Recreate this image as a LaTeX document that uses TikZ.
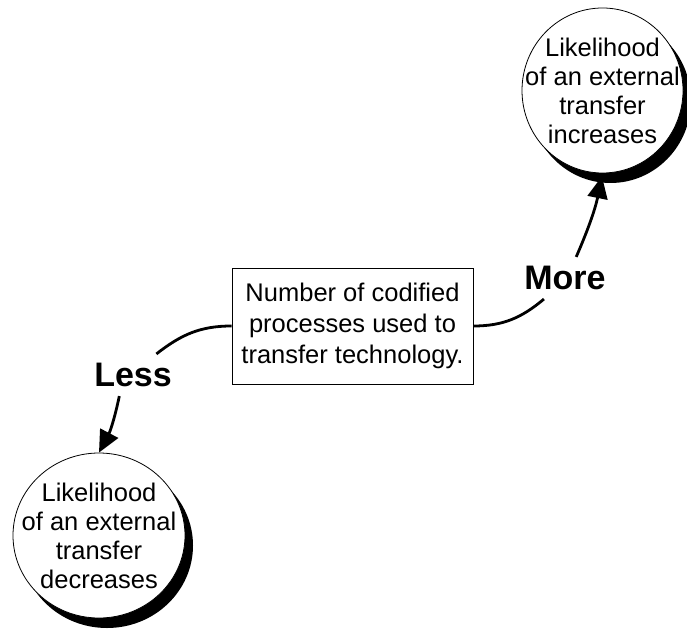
\documentclass[tikz,border=0pt]{standalone}
\usepackage{fontspec}
\setmainfont{Liberation Sans}
\usetikzlibrary{arrows.meta,shapes.geometric}
\begin{document}
\begin{tikzpicture}[x=1pt,y=1pt,
  outcome/.style={ellipse, draw=black, line width=0.8pt, fill=white,
    inner sep=0pt,
    preaction={fill=black, transform canvas={shift={(8pt,-10pt)}}}},
  outcometext/.style={align=center, inner sep=0pt,
    font=\fontsize{25.5}{29}\selectfont},
  factor/.style={rectangle, draw=black, line width=0.8pt, fill=white,
    minimum width=241pt, minimum height=116pt, align=center,
    font=\fontsize{25.5}{31}\selectfont},
  level/.style={font=\fontsize{34}{34}\selectfont\bfseries,
    inner xsep=6pt, inner ysep=9pt},
  link/.style={line width=2.8pt},
  flow/.style={line width=2.8pt, -{Triangle[length=22pt,width=20pt]}}]
  \useasboundingbox (0,0) rectangle (687,630);
  \fill[white] (0,0) rectangle (687,630);

  % central factor
  \node[factor] (box) at (352.5,304) {Number of codified\\processes used to\\transfer technology.};

  % the two outcomes: outline with drop shadow, then the text inside
  \node[outcome, minimum width=161pt, minimum height=165pt] (up) at (602.5,539.5) {};
  \node[outcometext] (uptext) at (up.center) {Likelihood\\of an external\\transfer\\increases};
  \node[outcome, minimum width=172pt, minimum height=165pt] (down) at (99,94.5) {};
  \node[outcometext] (downtext) at (down.center) {Likelihood\\of an external\\transfer\\decreases};

  % direction labels
  \node[level] (less) at (133,255) {Less};
  \node[level] (more) at (565,352) {More};

  % connectors
  \draw[link] (box.west) to[out=180,in=38] (less.42);
  \draw[flow] (less.-123) to[bend left=8] (down.north);
  \draw[link] (box.east) to[out=0,in=-140] (more.-135);
  \draw[flow, shorten >=3pt] (more.62) to[bend right=6] (up.south);
\end{tikzpicture}
\end{document}
